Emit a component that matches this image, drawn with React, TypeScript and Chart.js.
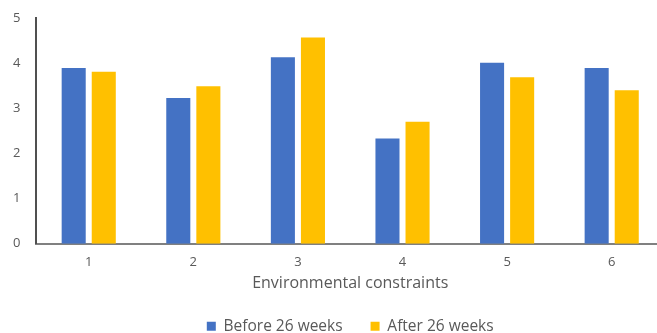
import React, { useEffect, useRef } from "react";
import { Chart, registerables } from "chart.js";

Chart.register(...registerables);

const categories = ["1", "2", "3", "4", "5", "6"];
const beforeValues = [3.89, 3.23, 4.13, 2.33, 4.01, 3.89];
const afterValues = [3.81, 3.49, 4.57, 2.7, 3.69, 3.4];
const seriesNames = ["Before 26 weeks", "After 26 weeks"];
const yTicks = [0, 1, 2, 3, 4, 5];

const BLUE = "#4472C4";
const GOLD = "#FFC000";
const TEXT = "#595959";
const FONT = "'Open Sans', 'Noto Sans', sans-serif";

// The canvas is a little larger than the visible frame: the last category
// slot runs past the right edge and the legend sits near the bottom edge.
const CANVAS_W = 667;
const CANVAS_H = 344;
const CANVAS_SHIFT_X = -3;

export default function App() {
  const canvasRef = useRef<HTMLCanvasElement | null>(null);

  useEffect(() => {
    document.body.style.margin = "0";
    const canvas = canvasRef.current;
    if (!canvas) return;
    const barStyle = { categoryPercentage: 0.575, barPercentage: 0.8 };
    const chart = new Chart(canvas, {
      type: "bar",
      data: {
        labels: categories,
        datasets: [
          { label: seriesNames[0], data: beforeValues, backgroundColor: BLUE, ...barStyle },
          { label: seriesNames[1], data: afterValues, backgroundColor: GOLD, ...barStyle },
        ],
      },
      options: {
        animation: false,
        responsive: false,
        layout: { padding: { top: 18, right: 0, left: 0, bottom: 0 } },
        plugins: {
          tooltip: { enabled: false },
          legend: {
            position: "bottom",
            fullSize: false,
            labels: {
              boxWidth: 9,
              boxHeight: 9,
              padding: 28,
              color: TEXT,
              font: { family: FONT, size: 15.5 },
            },
          },
        },
        scales: {
          x: {
            afterFit: (axis: any) => {
              axis.paddingLeft = 0;
              axis.paddingRight = 0;
            },
            grid: { display: false, drawTicks: false },
            border: { display: true, color: "#808080", width: 2 },
            ticks: {
              color: TEXT,
              padding: 11,
              font: { family: FONT, size: 13 },
            },
            title: {
              display: true,
              text: "Environmental constraints",
              color: TEXT,
              padding: { top: -7, bottom: -3 },
              font: { family: FONT, size: 16 },
            },
          },
          y: {
            min: 0,
            max: 5,
            afterBuildTicks: (axis: any) => {
              axis.ticks = yTicks.map((v) => ({ value: v }));
            },
            afterFit: (axis: any) => {
              axis.paddingTop = 0;
              axis.paddingBottom = 0;
            },
            grid: { display: false, drawTicks: false },
            border: { display: true, color: "#505050", width: 2 },
            ticks: {
              color: TEXT,
              padding: 16,
              font: { family: FONT, size: 13 },
            },
          },
        },
      },
    });
    return () => chart.destroy();
  }, []);

  return (
    <div
      style={{
        position: "absolute",
        left: 0,
        top: 0,
        width: 657,
        height: 333,
        overflow: "hidden",
        background: "#fff",
      }}
    >
      <canvas
        ref={canvasRef}
        width={CANVAS_W}
        height={CANVAS_H}
        style={{ display: "block", marginLeft: CANVAS_SHIFT_X }}
      />
    </div>
  );
}
